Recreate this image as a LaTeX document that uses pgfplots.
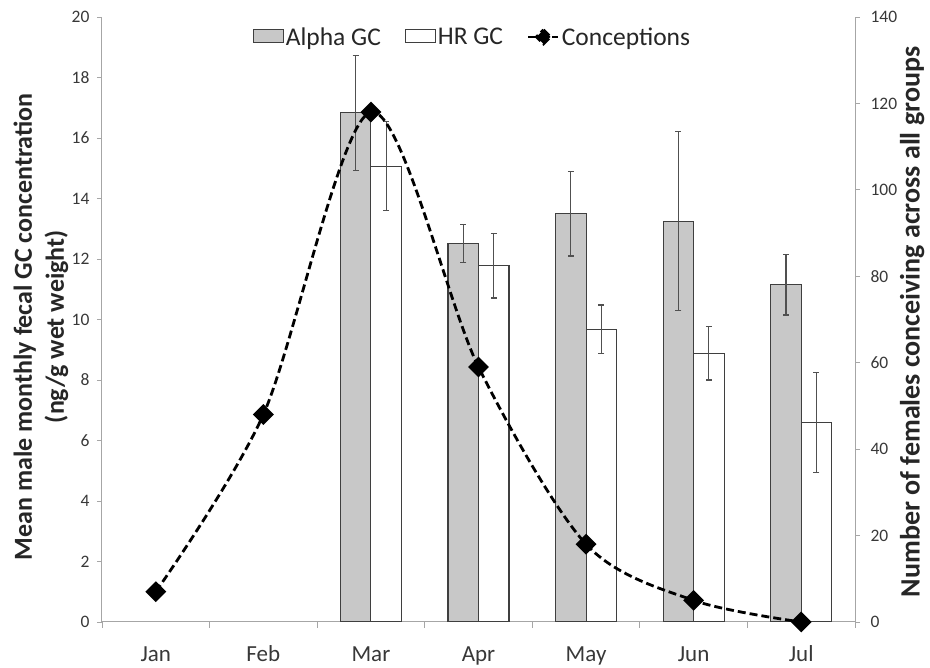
\documentclass[border=0pt]{standalone}
\usepackage{fontspec}
\setmainfont{Carlito}
\usepackage{pgfplots}
\pgfplotsset{compat=1.18}
\definecolor{axisgray}{HTML}{A6A6A6}
\definecolor{txtgray}{HTML}{383838}
\definecolor{barfill}{HTML}{C8C8C8}
\definecolor{bardraw}{HTML}{3F3F3F}
\definecolor{errgray}{HTML}{505050}

\pgfplotstableread{
x  y     e
3  16.83 1.90
4  12.52 0.63
5  13.50 1.40
6  13.25 2.95
7  11.15 1.00
}\alphadata
\pgfplotstableread{
x  y     e
3  15.07 1.47
4  11.77 1.06
5  9.68  0.80
6  8.88  0.88
7  6.60  1.65
}\hrdata
\pgfplotstableread{
x  y
1  7
2  48
3  118
4  59
5  18
6  5
7  0
}\concdata

\pgfplotsset{
  common/.style={
    at={(0,0)}, anchor=south west,
    scale only axis, width=753pt, height=605pt,
    xmin=0.5, xmax=7.5,
    tick align=outside,
    axis line style={axisgray, line width=1pt},
    every tick/.style={axisgray, line width=0.8pt},
    major tick length=5pt,
    minor tick length=6pt,
    /pgf/number format/assume math mode=true,
  }
}

\begin{document}
\begin{tikzpicture}
\path[use as bounding box] (-102pt,-46pt) rectangle (828pt,622pt);
\begin{axis}[
  common,
  ymin=0, ymax=20,
  axis y line*=left, axis x line*=bottom,
  ytick={0,2,...,20},
  yticklabel style={font=\fontsize{17.5}{20}\selectfont, text=txtgray, xshift=-4pt},
  xtick={1,...,7},
  xticklabels={Jan,Feb,Mar,Apr,May,Jun,Jul},
  major x tick style={draw=none},
  minor xtick={0.5,1.5,...,7.5},
  xticklabel style={font=\fontsize{23}{26}\selectfont, text=txtgray,
    anchor=base, yshift=-35pt},
  ybar=0pt, bar width=30.5pt,
  ylabel={Mean male monthly fecal GC concentration\\(ng/g wet weight)},
  ylabel style={at={(axis description cs:-0.081,0.488)}, anchor=center,
    align=center, font=\fontsize{26}{32}\selectfont\bfseries, text=black!85},
]
\addplot[fill=barfill, draw=bardraw, line width=1.1pt,
  error bars/.cd, y dir=both, y explicit,
  error bar style={errgray, line width=1.1pt},
  error mark options={rotate=90, errgray, line width=1.1pt, mark size=3pt}]
  table[x=x, y=y, y error=e]{\alphadata};
\addplot[fill=white, draw=bardraw, line width=1.1pt,
  error bars/.cd, y dir=both, y explicit,
  error bar style={errgray, line width=1.1pt},
  error mark options={rotate=90, errgray, line width=1.1pt, mark size=3pt}]
  table[x=x, y=y, y error=e]{\hrdata};
\end{axis}
\begin{axis}[
  common,
  ymin=0, ymax=140,
  axis y line*=right, axis x line=none,
  ytick={0,20,...,140},
  yticklabel style={font=\fontsize{17.5}{20}\selectfont, text=txtgray, xshift=7pt},
  clip=false,
  ylabel={Number of females conceiving across all groups},
  ylabel style={at={(axis description cs:1.076,0.496)}, anchor=center,
    rotate=0, font=\fontsize{28}{32}\selectfont\bfseries, text=black!85},
  legend style={at={(axis description cs:0.492,0.967)}, anchor=center,
    draw=none, fill=none, legend columns=-1,
    font=\fontsize{25.5}{28}\selectfont, text=black!85,
    /tikz/every even column/.append style={column sep=22pt},
    legend cell align=left},
]
\addlegendimage{legend image code/.code={\draw[fill=barfill, draw=bardraw, line width=1pt] (0pt,-6pt) rectangle (30pt,7pt);}}
\addlegendentry{Alpha GC}
\addlegendimage{legend image code/.code={\draw[fill=white, draw=bardraw, line width=1pt] (0pt,-6pt) rectangle (30pt,7pt);}}
\addlegendentry{HR GC}
\addplot[black, line width=2.8pt, dash pattern=on 8pt off 4pt, smooth,
  mark=square*, mark options={solid, rotate=45, mark size=6pt},
  legend image code/.code={\draw[black, line width=2.8pt] (0pt,0pt) -- (30pt,0pt);
     \fill[black] (15pt,0pt) +(0,7pt) -- +(7pt,0) -- +(0,-7pt) -- +(-7pt,0) -- cycle;}]
  table[x=x, y=y]{\concdata};
\addlegendentry{Conceptions}
\end{axis}
\end{tikzpicture}
\end{document}
